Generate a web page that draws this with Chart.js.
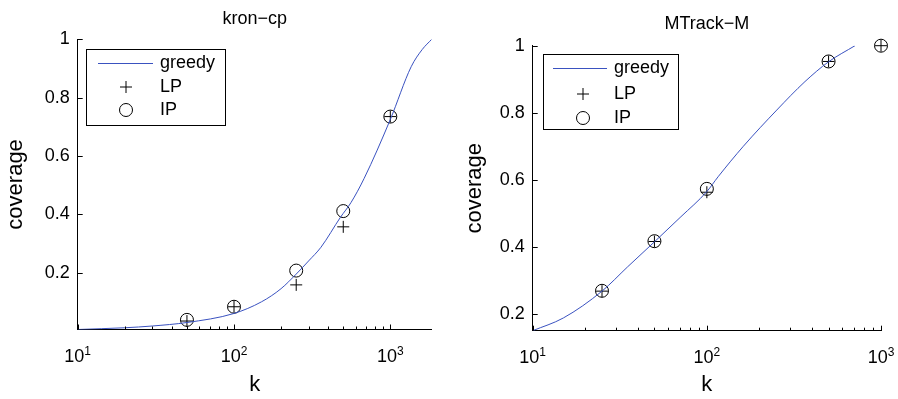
<!DOCTYPE html>
<html>
<head>
<meta charset="utf-8">
<script src="https://cdn.jsdelivr.net/npm/chart.js@4"></script>
<style>
  body { margin: 0; background: #fff; }
  .wrap { position: absolute; top: 0; width: 449px; height: 399px; }
</style>
</head>
<body>
<div class="wrap" style="left:0"><canvas id="kron" width="449" height="399"></canvas></div>
<div class="wrap" style="left:449px"><canvas id="mtrack" width="449" height="399"></canvas></div>
<script>
// kron-cp
const kronK = [50, 100, 250, 500, 1000];
const kronLP = [0.034, 0.083, 0.158, 0.357, 0.735];
const kronIP = [0.038, 0.083, 0.207, 0.411, 0.735];
const kronGreedyK = [10, 20, 30, 50, 100, 150, 200, 250, 300, 360, 480, 560, 680, 1000, 1360, 1600, 1840];
const kronGreedy = [0.005, 0.011, 0.017, 0.029, 0.06, 0.1, 0.145, 0.195, 0.24, 0.287, 0.39, 0.44, 0.523, 0.725, 0.906, 0.965, 1.0];

// MTrack-M
const mtrackK = [25, 50, 100, 500, 1000];
const mtrackLP = [0.268, 0.416, 0.563, 0.953, 1.0];
const mtrackIP = [0.269, 0.417, 0.573, 0.953, 1.0];
const mtrackGreedyK = [10, 15, 25, 35, 50, 71, 100, 116, 162, 252, 366, 500, 709];
const mtrackGreedy = [0.15, 0.188, 0.268, 0.34, 0.415, 0.49, 0.565, 0.609, 0.7, 0.808, 0.893, 0.952, 1.0];

const yTicks = [0.2, 0.4, 0.6, 0.8, 1];
const xMajor = [10, 100, 1000];
const legendLabels = ["greedy", "LP", "IP"];

const FONT = "'Liberation Sans', Arial, sans-serif";
const lineBlue = "#3a52c0";

const pairs = (xs, ys) => xs.map((k, i) => ({ x: k, y: ys[i] }));

// all decade ticks 10,20,...,90,100,200,... up to max
const logTicks = (max) => {
  const out = [];
  for (let d = 10; d <= max; d *= 10) {
    for (let m = 1; m <= 9; m++) {
      if (m * d <= max) out.push(m * d);
    }
  }
  return out;
};

// inward ticks, 10^n labels, title and boxed legend drawn matlab style
const matlabAxes = {
  id: "matlabAxes",
  afterDraw(chart, args, opts) {
    const ctx = chart.ctx;
    const xs = chart.scales.x;
    const ys = chart.scales.y;
    const area = chart.chartArea;
    ctx.save();
    ctx.strokeStyle = "#000";
    ctx.lineWidth = 1;
    ctx.beginPath();
    xs.ticks.forEach((t) => {
      const px = Math.round(xs.getPixelForValue(t.value)) + 0.5;
      const len = xMajor.includes(t.value) ? 5 : 3;
      ctx.moveTo(px, area.bottom);
      ctx.lineTo(px, area.bottom - len);
    });
    ys.ticks.forEach((t) => {
      const py = Math.round(ys.getPixelForValue(t.value)) + 0.5;
      ctx.moveTo(area.left, py);
      ctx.lineTo(area.left + 5, py);
    });
    ctx.stroke();

    // x labels 10^n
    ctx.fillStyle = "#000";
    ctx.textBaseline = "alphabetic";
    ctx.textAlign = "left";
    xMajor.forEach((v) => {
      if (v < xs.min || v > xs.max) return;
      const px = xs.getPixelForValue(v);
      const ex = String(Math.round(Math.log10(v)));
      ctx.font = "18px " + FONT;
      const w = ctx.measureText("10").width;
      ctx.font = "12px " + FONT;
      const we = ctx.measureText(ex).width;
      const start = px - (w + we) / 2;
      ctx.font = "18px " + FONT;
      ctx.fillText("10", start, area.bottom + 32);
      ctx.font = "12px " + FONT;
      ctx.fillText(ex, start + w, area.bottom + 25);
    });

    // title
    ctx.font = "18px " + FONT;
    ctx.textAlign = "center";
    ctx.textBaseline = "middle";
    ctx.fillText(opts.title, (area.left + area.right) / 2, opts.titleY);

    // legend
    const L = opts.legend;
    ctx.fillStyle = "#fff";
    ctx.fillRect(L.x, L.y, L.w, L.h);
    ctx.strokeStyle = "#000";
    ctx.strokeRect(L.x + 0.5, L.y + 0.5, L.w, L.h);
    ctx.strokeStyle = lineBlue;
    ctx.beginPath();
    ctx.moveTo(L.lineX1, L.rows[0] + 0.5);
    ctx.lineTo(L.lineX2, L.rows[0] + 0.5);
    ctx.stroke();
    ctx.strokeStyle = "#000";
    ctx.beginPath();
    ctx.moveTo(L.markX - 6, L.rows[1]);
    ctx.lineTo(L.markX + 6, L.rows[1]);
    ctx.moveTo(L.markX, L.rows[1] - 6);
    ctx.lineTo(L.markX, L.rows[1] + 6);
    ctx.stroke();
    ctx.beginPath();
    ctx.arc(L.markX, L.rows[2], 6.5, 0, Math.PI * 2);
    ctx.stroke();
    ctx.fillStyle = "#000";
    ctx.font = "18px " + FONT;
    ctx.textAlign = "left";
    ctx.textBaseline = "middle";
    legendLabels.forEach((s, i) => ctx.fillText(s, L.textX, L.rows[i]));
    ctx.restore();
  },
};

const makeChart = (id, cfg) => {
  const ctx = document.getElementById(id).getContext("2d");
  return new Chart(ctx, {
    type: "line",
    data: {
      datasets: [
        {
          label: "greedy",
          data: pairs(cfg.greedyK, cfg.greedy),
          borderColor: lineBlue,
          borderWidth: 1,
          pointRadius: 0,
          cubicInterpolationMode: "monotone",
        },
        {
          label: "LP",
          data: pairs(cfg.k, cfg.lp),
          showLine: false,
          pointStyle: "cross",
          pointRadius: 6,
          borderColor: "#000",
          borderWidth: 1,
          clip: false,
        },
        {
          label: "IP",
          data: pairs(cfg.k, cfg.ip),
          showLine: false,
          pointStyle: "circle",
          pointRadius: 6.5,
          backgroundColor: "rgba(0,0,0,0)",
          borderColor: "#000",
          borderWidth: 1,
          clip: false,
        },
      ],
    },
    options: {
      responsive: false,
      animation: false,
      devicePixelRatio: 1,
      layout: { padding: cfg.padding },
      plugins: {
        legend: { display: false },
        tooltip: { enabled: false },
        matlabAxes: { title: cfg.title, titleY: cfg.titleY, legend: cfg.legend },
      },
      scales: {
        x: {
          type: "logarithmic",
          min: 10,
          max: cfg.xMax,
          grid: { display: false, drawTicks: false },
          border: { display: true, color: "#000" },
          ticks: { display: false },
          afterBuildTicks: (s) => {
            s.ticks = logTicks(cfg.xMax).map((v) => ({ value: v }));
          },
          afterFit: (s) => {
            s.height = cfg.xAxisH;
          },
          title: {
            display: true,
            text: "k",
            color: "#000",
            font: { family: FONT, size: 22, lineHeight: 1 },
            padding: { top: 0, bottom: 3 },
          },
        },
        y: {
          min: cfg.yMin,
          max: 1,
          grid: { display: false, drawTicks: false },
          border: { display: true, color: "#000" },
          afterBuildTicks: (s) => {
            s.ticks = yTicks.map((v) => ({ value: v }));
          },
          ticks: {
            color: "#000",
            padding: 8,
            font: { family: FONT, size: 18 },
            callback: (v) => String(v),
          },
          afterFit: (s) => {
            s.width = cfg.yAxisW;
          },
          title: {
            display: true,
            text: "coverage",
            color: "#000",
            font: { family: FONT, size: 22, lineHeight: 1 },
            padding: { top: cfg.yTitlePad, bottom: 0 },
          },
        },
      },
    },
    plugins: [matlabAxes],
  });
};

makeChart("kron", {
  k: kronK, lp: kronLP, ip: kronIP, greedyK: kronGreedyK, greedy: kronGreedy,
  xMax: 1840, yMin: 0.005,
  padding: { left: 0, right: 17.3, top: 39.3, bottom: 0 },
  xAxisH: 69.5, yAxisW: 77.7, yTitlePad: 5,
  title: "kron\u2212cp", titleY: 19,
  legend: { x: 86, y: 49, w: 139, h: 76, lineX1: 98, lineX2: 153, textX: 160, markX: 126, rows: [63, 87, 110] },
});

makeChart("mtrack", {
  k: mtrackK, lp: mtrackLP, ip: mtrackIP, greedyK: mtrackGreedyK, greedy: mtrackGreedy,
  xMax: 1000, yMin: 0.15,
  padding: { left: 0, right: 17, top: 45.7, bottom: 0 },
  xAxisH: 68.3, yAxisW: 83.7, yTitlePad: 15,
  title: "MTrack\u2212M", titleY: 24.5,
  legend: { x: 94, y: 54, w: 135, h: 75, lineX1: 104, lineX2: 158, textX: 165, markX: 134, rows: [68, 94, 118] },
});
</script>
</body>
</html>
